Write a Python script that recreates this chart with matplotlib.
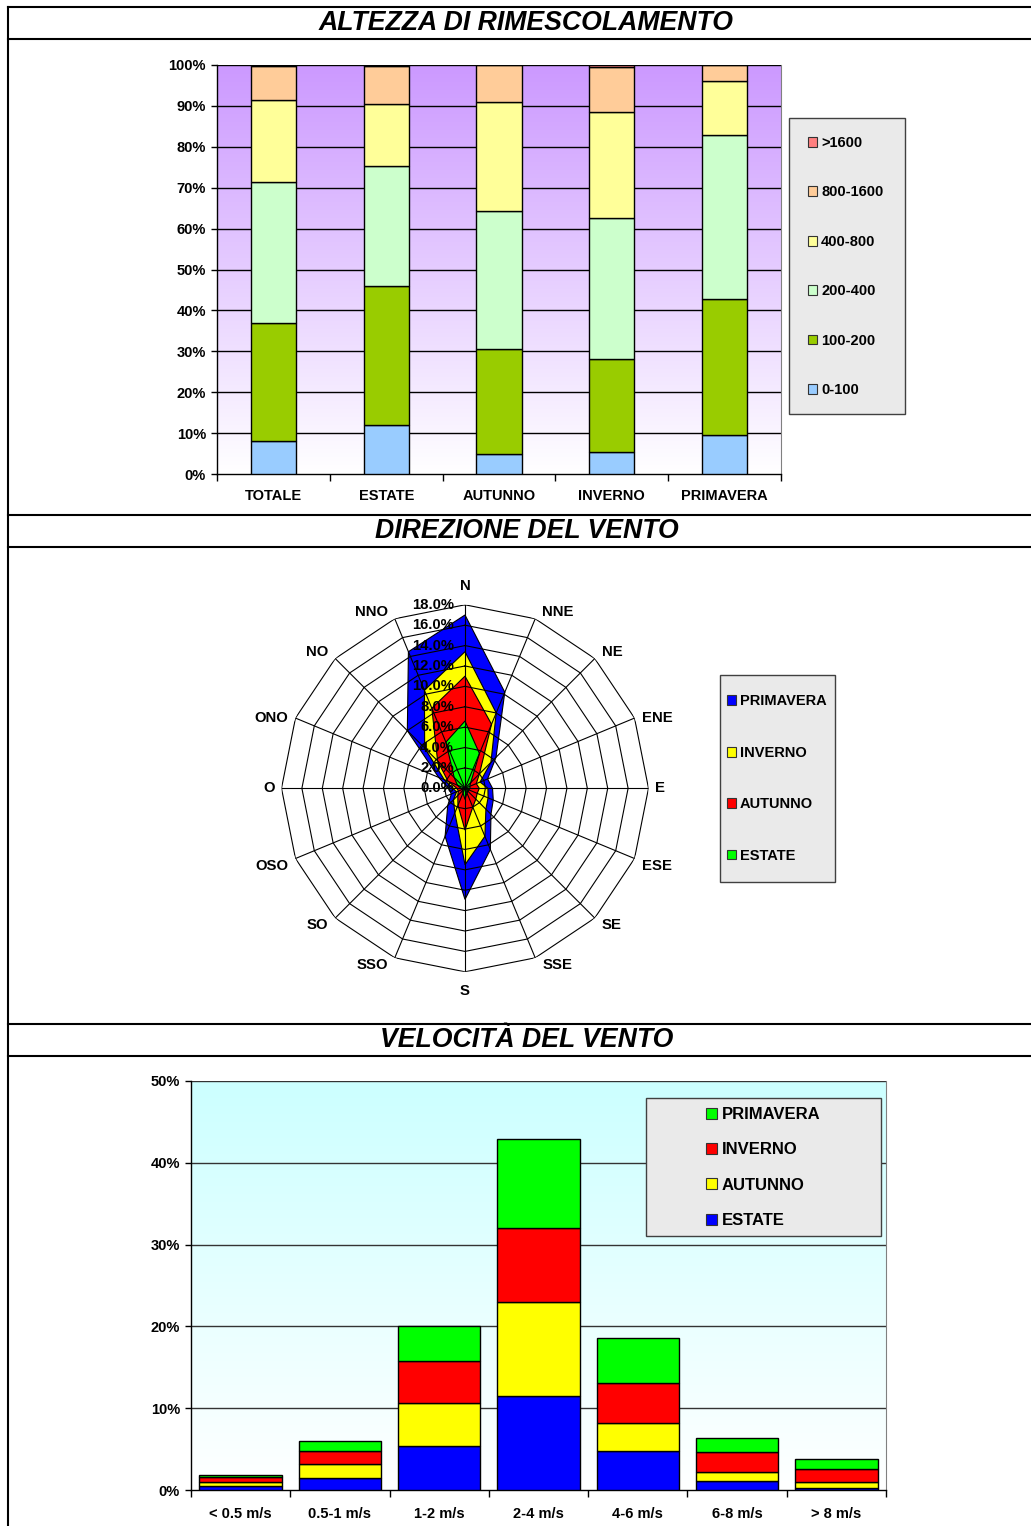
import numpy as np
import matplotlib
matplotlib.use('Agg')
import matplotlib.pyplot as plt
from matplotlib.patches import Patch, Rectangle
from matplotlib.lines import Line2D
from matplotlib import transforms

plt.rcParams['font.family'] = ['Liberation Sans', 'DejaVu Sans']
plt.rcParams['font.weight'] = 'bold'

# --- altezza di rimescolamento (% per classe di altezza, m) ---
mix_categories = ['TOTALE', 'ESTATE', 'AUTUNNO', 'INVERNO', 'PRIMAVERA']
mix_classes = ['0-100', '100-200', '200-400', '400-800', '800-1600', '>1600']
h_0_100 = [8.0, 12.1, 5.0, 5.4, 9.5]
h_100_200 = [28.9, 33.9, 25.6, 22.6, 33.2]
h_200_400 = [34.4, 29.3, 33.7, 34.6, 40.1]
h_400_800 = [20.1, 15.2, 26.6, 25.8, 13.2]
h_800_1600 = [8.4, 9.2, 9.1, 11.2, 4.0]
h_over_1600 = [0.2, 0.3, 0.0, 0.4, 0.0]

# --- direzione del vento (frequenza %) ---
directions = ['N', 'NNE', 'NE', 'ENE', 'E', 'ESE', 'SE', 'SSE',
              'S', 'SSO', 'SO', 'OSO', 'O', 'ONO', 'NO', 'NNO']
dir_primavera = [17.0, 10.2, 4.3, 2.4, 2.7, 3.0, 3.6, 6.5, 10.9, 5.1, 2.4, 1.45, 1.6, 2.8, 8.0, 14.5]
dir_inverno = [13.4, 8.0, 3.6, 1.6, 2.25, 2.45, 2.9, 5.1, 7.5, 2.6, 1.6, 0.9, 1.2, 2.2, 5.6, 10.4]
dir_autunno = [11.0, 6.8, 2.0, 1.2, 1.4, 1.3, 1.5, 2.0, 4.1, 1.8, 1.0, 0.7, 0.8, 1.8, 3.8, 8.5]
dir_estate = [6.6, 3.7, 0.8, 0.5, 0.5, 0.4, 0.4, 0.5, 1.1, 0.5, 0.3, 0.3, 0.4, 0.8, 1.5, 4.9]

# --- velocita' del vento (frequenza %) ---
speed_classes = ['< 0.5 m/s', '0.5-1 m/s', '1-2 m/s', '2-4 m/s', '4-6 m/s', '6-8 m/s', '> 8 m/s']
spd_estate = [0.49, 1.43, 5.34, 11.5, 4.77, 1.1, 0.2]
spd_autunno = [0.53, 1.79, 5.26, 11.5, 3.43, 1.14, 0.74]
spd_inverno = [0.53, 1.51, 5.2, 9.0, 4.85, 2.36, 1.59]
spd_primavera = [0.24, 1.22, 4.3, 10.9, 5.55, 1.7, 1.22]

W, H = 1031, 1526
fig = plt.figure(figsize=(W / 100, H / 100), dpi=100)


def fx(px):
    return px / W


def fy(py):
    return 1 - py / H


def add_box_axes(left, top, right, bottom, **kw):
    return fig.add_axes([fx(left), fy(bottom), (right - left) / W, (bottom - top) / H], **kw)


def gradient(ax, top_rgb, xlim, ylim):
    n = 256
    f = np.linspace(1, 0, n)[:, None, None]
    top = np.array(top_rgb) / 255.0
    img = 1 + (top - 1) * f
    ax.imshow(img, extent=[xlim[0], xlim[1], ylim[0], ylim[1]], aspect='auto',
              origin='upper', zorder=0, interpolation='bilinear')


def legend_box(left, top, right, bottom):
    fig.add_artist(Rectangle((fx(left), fy(bottom)), (right - left) / W, (bottom - top) / H,
                             transform=fig.transFigure, facecolor='#EAEAEA',
                             edgecolor='#404040', lw=1.0, zorder=4))


def style_bar_axes(ax, n, ymax, ystep, grid_color):
    ax.set_xlim(-0.5, n - 0.5)
    ax.set_ylim(0, ymax)
    for v in range(ystep, ymax + 1, ystep):
        ax.axhline(v, color=grid_color, lw=1.0, zorder=1)
    ax.set_yticks(range(0, ymax + 1, ystep))
    ax.set_yticklabels([f'{v}%' for v in range(0, ymax + 1, ystep)])
    ax.set_xticks(list(np.arange(-0.5, n, 1.0)), minor=True)
    ax.tick_params(axis='y', length=4, width=1, pad=4, labelsize=10.5)
    ax.tick_params(axis='x', which='minor', length=5, width=1)
    ax.spines['top'].set_visible(False)
    ax.spines['right'].set_color('#808080')
    for s in ('left', 'bottom'):
        ax.spines[s].set_color('black')
        ax.spines[s].set_linewidth(1.0)


# cornice e titoli
for y in [6.5, 39, 515, 547, 1024, 1056]:
    fig.add_artist(Line2D([fx(7.5), 1], [fy(y), fy(y)], color='black', lw=1.5))
fig.add_artist(Line2D([fx(8), fx(8)], [fy(6.5), 0], color='black', lw=1.5))

title_kw = dict(ha='center', va='center', fontsize=19.2, style='italic', weight='bold')
fig.text(fx(526.5), fy(22.5), 'ALTEZZA DI RIMESCOLAMENTO', **title_kw)
fig.text(fx(526.5), fy(531), 'DIREZIONE DEL VENTO', **title_kw)
fig.text(fx(526.5), fy(1040), 'VELOCITÀ DEL VENTO', **title_kw)

# ---------------- altezza di rimescolamento ----------------
ax1 = add_box_axes(217, 65, 781, 474)
gradient(ax1, (204, 153, 255), (-0.5, 4.5), (0, 100))
mix_series = [h_0_100, h_100_200, h_200_400, h_400_800, h_800_1600, h_over_1600]
mix_colors = ['#99CCFF', '#99CC00', '#CCFFCC', '#FFFF99', '#FFCC99', '#FF8080']
x = np.arange(len(mix_categories))
bottom = np.zeros(len(x))
for vals, col in zip(mix_series, mix_colors):
    ax1.bar(x, vals, 0.4, bottom=bottom, color=col, edgecolor='black', lw=1.0, zorder=3)
    bottom += np.array(vals)
style_bar_axes(ax1, len(x), 100, 10, 'black')
ax1.set_xticks(x)
ax1.set_xticklabels(mix_categories)
ax1.tick_params(axis='x', which='major', length=0, pad=11, labelsize=10.5)

legend_box(789, 118, 905, 414)
handles = [Patch(facecolor=c, edgecolor='#333333', lw=0.8) for c in mix_colors][::-1]
fig.legend(handles, mix_classes[::-1], loc='center left', bbox_to_anchor=(fx(808), fy(266.5)),
           frameon=False, fontsize=10.5, handlelength=0.65, handleheight=0.65,
           handletextpad=0.25, labelspacing=2.43, borderpad=0, borderaxespad=0).set_zorder(5)

# ---------------- direzione del vento ----------------
cx, cy, R = 465, 788.3, 183.5
ax2 = add_box_axes(cx - R, cy - R, cx + R, cy + R, projection='polar')
ax2.set_theta_zero_location('N')
ax2.set_theta_direction(-1)
ax2.set_ylim(0, 18)
ax2.axis('off')
theta = np.deg2rad(np.arange(len(directions)) * 22.5)
closed = np.append(theta, theta[0])

radar_series = [(dir_primavera, '#0000FF'), (dir_inverno, '#FFFF00'),
                (dir_autunno, '#FF0000'), (dir_estate, '#00FF00')]
for vals, col in radar_series:
    ax2.fill(closed, np.append(vals, vals[0]), facecolor=col, edgecolor='black', lw=0.8, zorder=2)

for lev in range(2, 19, 2):
    ax2.plot(closed, np.full(len(closed), lev), color='black', lw=0.8, zorder=3)
for t in theta:
    ax2.plot([t, t], [0, 18], color='black', lw=0.8, zorder=3)

# etichette delle direzioni accostate al vertice esterno
for t, name in zip(theta, directions):
    s, c = np.sin(t), np.cos(t)
    if abs(s) < 1e-6:
        ha, dx, dy = 'center', 0, 12 * np.sign(c)
    else:
        ha, dx, dy = ('left' if s > 0 else 'right'), 7 * np.sign(s), 0
    va = 'bottom' if c > 0.5 else ('top' if c < -0.3 else 'center')
    tr = transforms.offset_copy(ax2.transData, fig=fig, x=dx, y=dy, units='dots')
    ax2.text(t, 18, name, transform=tr, ha=ha, va=va, fontsize=10.7, zorder=5)

off = transforms.offset_copy(ax2.transData, fig=fig, x=-11, y=0, units='dots')
for lev in range(0, 19, 2):
    ax2.text(0, lev, f'{lev:.1f}%', transform=off, ha='right', va='center', fontsize=10.7, zorder=5)

legend_box(720, 675, 835, 882)
radar_names = ['PRIMAVERA', 'INVERNO', 'AUTUNNO', 'ESTATE']
handles = [Patch(facecolor=c, edgecolor='#333333', lw=0.8) for _, c in radar_series]
fig.legend(handles, radar_names, loc='center left', bbox_to_anchor=(fx(727), fy(778.5)),
           frameon=False, fontsize=10.5, handlelength=0.65, handleheight=0.65,
           handletextpad=0.25, labelspacing=2.57, borderpad=0, borderaxespad=0).set_zorder(5)

# ---------------- velocita' del vento ----------------
ax3 = add_box_axes(191, 1081, 886, 1490)
gradient(ax3, (204, 255, 255), (-0.5, 6.5), (0, 50))
spd_series = [(spd_estate, '#0000FF', 'ESTATE'), (spd_autunno, '#FFFF00', 'AUTUNNO'),
              (spd_inverno, '#FF0000', 'INVERNO'), (spd_primavera, '#00FF00', 'PRIMAVERA')]
x = np.arange(len(speed_classes))
bottom = np.zeros(len(x))
for vals, col, _ in spd_series:
    ax3.bar(x, vals, 0.83, bottom=bottom, color=col, edgecolor='black', lw=1.0, zorder=3)
    bottom += np.array(vals)
style_bar_axes(ax3, len(x), 50, 10, '#333333')
ax3.set_xticks(x)
ax3.set_xticklabels(speed_classes)
ax3.tick_params(axis='x', which='major', length=0, pad=12, labelsize=10.5)

legend_box(646, 1098, 881, 1236)
handles = [Patch(facecolor=c, edgecolor='#333333', lw=0.8) for _, c, _ in spd_series][::-1]
fig.legend(handles, [n for _, _, n in spd_series][::-1], loc='center left',
           bbox_to_anchor=(fx(706), fy(1167.5)), frameon=False, fontsize=12,
           handlelength=0.65, handleheight=0.65, handletextpad=0.3, labelspacing=1.22,
           borderpad=0, borderaxespad=0).set_zorder(5)

fig.savefig('out.png', dpi=100)
